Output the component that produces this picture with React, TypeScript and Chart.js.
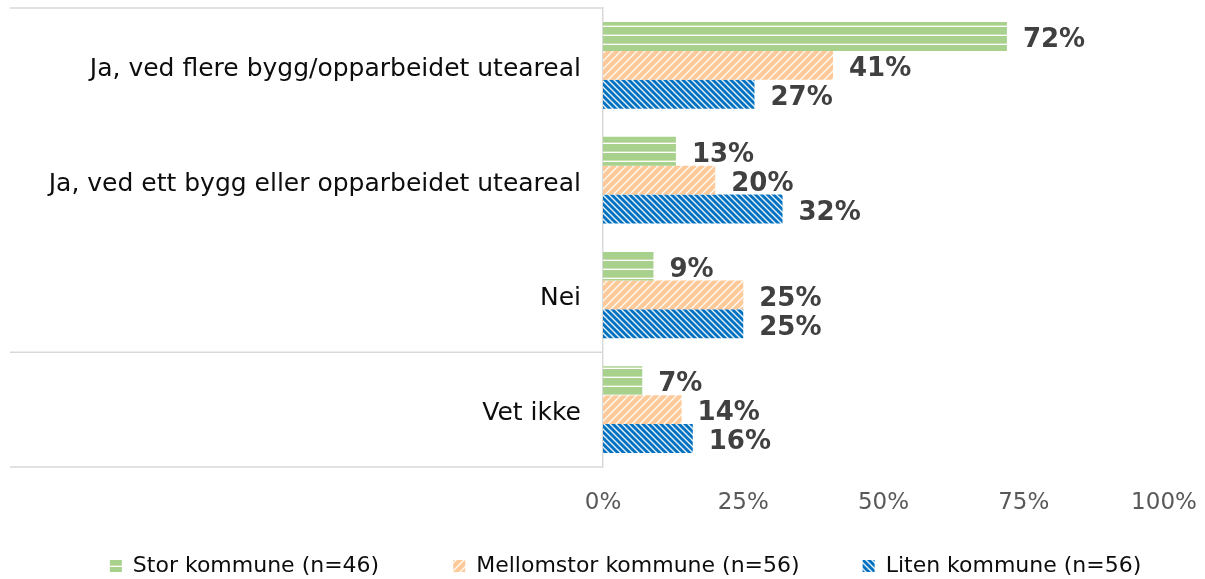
import React, { useEffect, useRef } from 'react';
import { Chart, registerables } from 'chart.js';

Chart.register(...registerables);

const categories = [
  'Ja, ved flere bygg/opparbeidet uteareal',
  'Ja, ved ett bygg eller opparbeidet uteareal',
  'Nei',
  'Vet ikke',
];
const seriesNames = ['Stor kommune (n=46)', 'Mellomstor kommune (n=56)', 'Liten kommune (n=56)'];
const storValues = [72, 13, 9, 7];
const mellomstorValues = [41, 20, 25, 14];
const litenValues = [27, 32, 25, 16];
const xTickValues = [0, 25, 50, 75, 100];
const separatorIndices = [0, 3, 4];
const legendGaps = ['\u2003\u2003\u2003', '\u2003\u2003\u2002', '\u2002\u2006'];

const FONT = '"DejaVu Sans", Verdana, sans-serif';

function makePattern(kind: 'h' | 'fwd' | 'back'): CanvasPattern | string {
  const c = document.createElement('canvas');
  const ctx = c.getContext('2d');
  if (!ctx) return '#888';
  if (kind === 'h') {
    c.width = 8;
    c.height = 9;
    ctx.fillStyle = '#a9d18e';
    ctx.fillRect(0, 0, 8, 9);
    ctx.fillStyle = '#ffffff';
    ctx.fillRect(0, 8, 8, 1);
    ctx.fillStyle = 'rgba(255,255,255,0.35)';
    ctx.fillRect(0, 7, 8, 1);
  } else if (kind === 'fwd') {
    c.width = 8;
    c.height = 8;
    ctx.fillStyle = '#fdc998';
    ctx.fillRect(0, 0, 8, 8);
    ctx.strokeStyle = 'rgba(255,255,255,0.9)';
    ctx.lineWidth = 1.4;
    ctx.beginPath();
    ctx.moveTo(-1, 9);
    ctx.lineTo(9, -1);
    ctx.moveTo(-1, 1);
    ctx.lineTo(1, -1);
    ctx.moveTo(7, 9);
    ctx.lineTo(9, 7);
    ctx.stroke();
  } else {
    c.width = 6;
    c.height = 6;
    ctx.fillStyle = '#0070c0';
    ctx.fillRect(0, 0, 6, 6);
    ctx.strokeStyle = 'rgba(255,255,255,0.9)';
    ctx.lineWidth = 1.4;
    ctx.beginPath();
    ctx.moveTo(-1, -1);
    ctx.lineTo(7, 7);
    ctx.moveTo(5, -1);
    ctx.lineTo(7, 1);
    ctx.moveTo(-1, 5);
    ctx.lineTo(1, 7);
    ctx.stroke();
  }
  const p = ctx.createPattern(c, 'repeat');
  return p || '#888';
}

const valueLabelPlugin = {
  id: 'valueLabels',
  afterDatasetsDraw(chart: any) {
    const ctx = chart.ctx;
    ctx.save();
    ctx.font = `bold 26px ${FONT}`;
    ctx.fillStyle = '#404040';
    ctx.textAlign = 'left';
    ctx.textBaseline = 'middle';
    chart.data.datasets.forEach((ds: any, di: number) => {
      const meta = chart.getDatasetMeta(di);
      meta.data.forEach((bar: any, i: number) => {
        ctx.fillText(`${ds.data[i]}%`, bar.x + 16, bar.y + 4);
      });
    });
    ctx.restore();
  },
};

const separatorPlugin = {
  id: 'categorySeparators',
  afterDraw(chart: any) {
    const y = chart.scales.y;
    const ctx = chart.ctx;
    const n = chart.data.labels.length;
    const band = (y.bottom - y.top) / n;
    ctx.save();
    ctx.strokeStyle = '#d9d9d9';
    ctx.lineWidth = 1.5;
    separatorIndices.forEach((i) => {
      const py = y.top + band * i;
      ctx.beginPath();
      ctx.moveTo(y.left, py);
      ctx.lineTo(y.right, py);
      ctx.stroke();
    });
    ctx.restore();
  },
};

export default function App() {
  const canvasRef = useRef<HTMLCanvasElement | null>(null);

  useEffect(() => {
    if (!canvasRef.current) return;
    Chart.defaults.font.family = FONT;
    const fills = [makePattern('h'), makePattern('fwd'), makePattern('back')];
    const values = [storValues, mellomstorValues, litenValues];
    const defaultGen = (Chart.defaults as any).plugins.legend.labels.generateLabels;

    const chart = new Chart(canvasRef.current, {
      type: 'bar',
      data: {
        labels: categories,
        datasets: seriesNames.map((name, i) => ({
          label: name,
          data: values[i],
          backgroundColor: fills[i] as any,
          borderWidth: 0,
          categoryPercentage: 0.757,
          barPercentage: 1,
        })),
      },
      options: {
        indexAxis: 'y',
        animation: false,
        responsive: true,
        maintainAspectRatio: false,
        layout: { padding: { left: 10, right: 41, top: 8, bottom: 0 } },
        scales: {
          x: {
            min: 0,
            max: 100,
            afterBuildTicks: (s: any) => {
              s.ticks = xTickValues.map((v) => ({ value: v }));
            },
            afterFit: (s: any) => {
              s.height = 80;
              s.paddingLeft = 0;
              s.paddingRight = 0;
            },
            ticks: {
              callback: (v: any) => `${v}%`,
              color: '#595959',
              font: { size: 23, family: FONT },
              padding: 22,
            },
            grid: { display: false, drawTicks: false },
            border: { display: false },
          },
          y: {
            afterFit: (s: any) => {
              s.width = 593;
              s.paddingTop = 0;
              s.paddingBottom = 0;
            },
            ticks: {
              color: '#0d0d0d',
              font: { size: 25, family: FONT },
              padding: 22,
              labelOffset: 4,
            },
            grid: { display: false, drawTicks: false },
            border: { display: true, color: '#d9d9d9', width: 1.5 },
          },
        },
        plugins: {
          legend: {
            position: 'bottom',
            align: 'end',
            labels: {
              boxWidth: 12,
              boxHeight: 12,
              padding: 8,
              color: '#0d0d0d',
              font: { size: 22, family: FONT },
              generateLabels: (ch: any) => {
                const items = defaultGen(ch);
                return items.map((it: any, i: number) => ({
                  ...it,
                  lineWidth: 0,
                  text: it.text + (legendGaps[i] || ''),
                }));
              },
            },
          },
          tooltip: { enabled: false },
        },
      },
      plugins: [valueLabelPlugin, separatorPlugin],
    });
    return () => chart.destroy();
  }, []);

  return (
    <div style={{ position: 'fixed', left: 0, top: 0, width: 1205, height: 587, background: '#fff' }}>
      <canvas ref={canvasRef} />
    </div>
  );
}
